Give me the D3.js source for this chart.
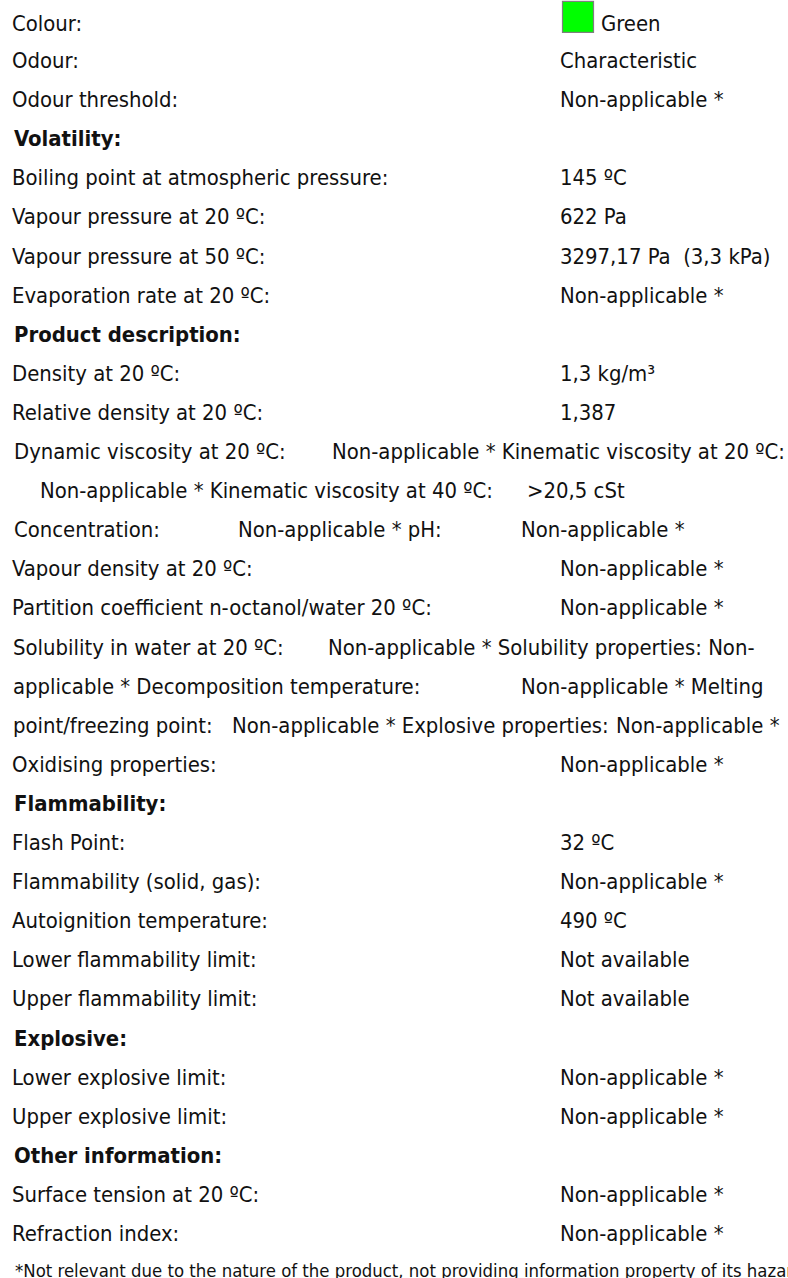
<!DOCTYPE html>
<html>
<head>
<meta charset="utf-8">
<script src="https://cdn.jsdelivr.net/npm/d3@7"></script>
<style>
  body { margin: 0; background: #fff; }
  svg text { font-family: "DejaVu Sans Condensed", "DejaVu Sans", sans-serif; font-stretch: condensed; fill: #111; }
</style>
</head>
<body>
<div class="sheet"></div>
<script>
// general properties
var generalLabels = ["Colour:", "Odour:", "Odour threshold:"];
var generalValues = ["Green", "Characteristic", "Non-applicable *"];
var colourSwatch = "#00ff00";

var volatilityLabels = ["Boiling point at atmospheric pressure:", "Vapour pressure at 20 ºC:", "Vapour pressure at 50 ºC:", "Evaporation rate at 20 ºC:"];
var volatilityValues = ["145 ºC", "622 Pa", "3297,17 Pa  (3,3 kPa)", "Non-applicable *"];

var productLabels = ["Density at 20 ºC:", "Relative density at 20 ºC:"];
var productValues = ["1,3 kg/m³", "1,387"];

// lines that the pdf ran together, split in pieces
var viscosityLines = [
  ["Dynamic viscosity at 20 ºC:", "Non-applicable * Kinematic viscosity at 20 ºC:"],
  ["Non-applicable * Kinematic viscosity at 40 ºC:", ">20,5 cSt"],
  ["Concentration:", "Non-applicable * pH:", "Non-applicable *"]
];
var vapourLabels = ["Vapour density at 20 ºC:", "Partition coefficient n-octanol/water 20 ºC:"];
var vapourValues = ["Non-applicable *", "Non-applicable *"];
var solubilityLines = [
  ["Solubility in water at 20 ºC:", "Non-applicable * Solubility properties: Non-"],
  ["applicable * Decomposition temperature:", "Non-applicable * Melting"],
  ["point/freezing point:", "Non-applicable * Explosive properties:", "Non-applicable *"]
];
var oxidisingLabels = ["Oxidising properties:"];
var oxidisingValues = ["Non-applicable *"];

var flammabilityLabels = ["Flash Point:", "Flammability (solid, gas):", "Autoignition temperature:", "Lower flammability limit:", "Upper flammability limit:"];
var flammabilityValues = ["32 ºC", "Non-applicable *", "490 ºC", "Not available", "Not available"];

var explosiveLabels = ["Lower explosive limit:", "Upper explosive limit:"];
var explosiveValues = ["Non-applicable *", "Non-applicable *"];

var otherLabels = ["Surface tension at 20 ºC:", "Refraction index:"];
var otherValues = ["Non-applicable *", "Non-applicable *"];

var footnote = "*Not relevant due to the nature of the product, not providing information property of its hazardousness.";

var svgWidth = 788;
var svgHeight = 1278;
var labelX = 12;
var valueX = 560;
var fontSize = 21.9;

// x start of each piece on the run-together lines
var viscosityX = [[14, 332], [40, 527], [14, 238, 521]];
var solubilityX = [[13, 328], [13, 521], [13, 232, 616]];

// build row list in reading order
var rows = [];
function pairs(labels, values) {
  labels.forEach(function(l, i) {
    rows.push({ kind: "pair", parts: [l, values[i]], xs: [labelX, valueX] });
  });
}
function header(t) { rows.push({ kind: "header", parts: [t], xs: [14] }); }
function pieces(lines, xs) {
  lines.forEach(function(l, i) { rows.push({ kind: "pair", parts: l, xs: xs[i] }); });
}

pairs(generalLabels, generalValues);
rows[0].swatch = colourSwatch;
header("Volatility:");
pairs(volatilityLabels, volatilityValues);
header("Product description:");
pairs(productLabels, productValues);
pieces(viscosityLines, viscosityX);
pairs(vapourLabels, vapourValues);
pieces(solubilityLines, solubilityX);
pairs(oxidisingLabels, oxidisingValues);
header("Flammability:");
pairs(flammabilityLabels, flammabilityValues);
header("Explosive:");
pairs(explosiveLabels, explosiveValues);
header("Other information:");
pairs(otherLabels, otherValues);
rows.push({ kind: "note", parts: [footnote], xs: [15] });

var svg = d3.select(".sheet")
  .append("svg")
  .attr("width", svgWidth)
  .attr("height", svgHeight);

// row index -> vertical centre of the line
var yScale = d3.scaleLinear()
  .domain([1, 31])
  .range([60, 1233]);

var rowGroups = svg.selectAll("g.row")
  .data(rows)
  .enter()
  .append("g")
  .attr("class", "row")
  .attr("transform", function(d, i) {
    var y = yScale(i);
    if (i === 0) y += 2;            // colour row sits a bit lower
    if (d.kind === "note") y -= 3;  // keep the footnote on the page
    return `translate(0, ${y})`;
  });

rowGroups.each(function(d) {
  var g = d3.select(this);
  var offset = 0;
  if (d.swatch) {
    g.append("rect")
      .attr("x", 562.5)
      .attr("y", -21.5)
      .attr("width", 31)
      .attr("height", 31)
      .attr("fill", d.swatch)
      .attr("stroke", "#7f7f7f")
      .attr("stroke-width", 1.2);
    offset = 41;
  }
  d.parts.forEach(function(p, j) {
    g.append("text")
      .attr("x", d.xs[j] + (j > 0 ? offset : 0))
      .attr("y", 8)
      .style("font-size", (d.kind === "note" ? 18.4 : fontSize) + "px")
      .style("font-weight", d.kind === "header" ? "bold" : "normal")
      .style("white-space", "pre")
      .attr("xml:space", "preserve")
      .text(p);
  });
});
</script>
</body>
</html>
